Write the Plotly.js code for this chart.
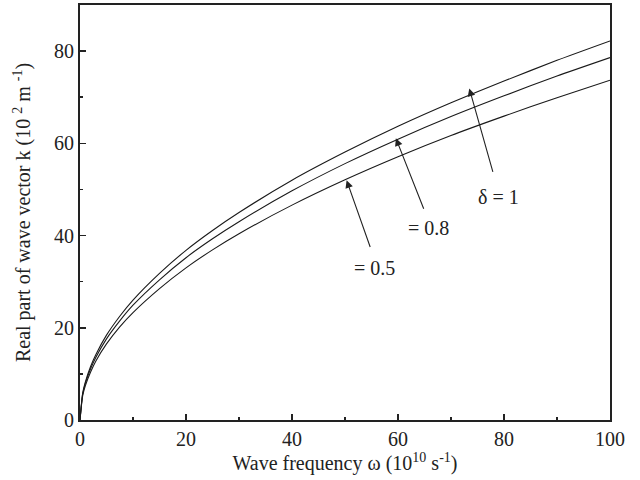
<!DOCTYPE html>
<html>
<head>
<meta charset="utf-8">
<script src="https://cdn.plot.ly/plotly-3.0.1.min.js"></script>
<style>html,body{margin:0;padding:0;background:#fff;}#chart{width:640px;height:480px;}</style>
</head>
<body>
<div id="chart"></div>
<script>
// Wave frequency (10^10 s^-1)
const omega = [0, 0.5, 1, 2, 3, 5, 7.5, 10, 15, 20, 25, 30, 40, 50, 60, 70, 80, 90, 100];
// Real part of wave vector k (10^2 m^-1) for each delta
const kDelta1  = [0, 5.8, 8.2, 11.6, 14.2, 18.4, 22.5, 26.0, 31.8, 36.8, 41.1, 45.0, 52.0, 58.1, 63.7, 68.8, 73.5, 78.0, 82.2];
const kDelta08 = [0, 5.6, 7.9, 11.1, 13.6, 17.6, 21.5, 24.9, 30.4, 35.2, 39.3, 43.0, 49.7, 55.6, 60.9, 65.8, 70.3, 74.6, 78.6];
const kDelta05 = [0, 5.2, 7.4, 10.4, 12.8, 16.5, 20.2, 23.3, 28.5, 33.0, 36.9, 40.4, 46.6, 52.1, 57.1, 61.7, 65.9, 69.9, 73.7];
const labels = ["δ = 1", "= 0.8", "= 0.5"];

const lineStyle = {color: '#1a1a1a', width: 1.1, shape: 'spline', smoothing: 0.6};
const traces = [kDelta1, kDelta08, kDelta05].map((k, i) => ({
  x: omega, y: k, mode: 'lines', type: 'scatter', name: labels[i],
  line: lineStyle, showlegend: false, hoverinfo: 'skip'
}));

const fam = '"Liberation Serif", "Times New Roman", serif';
const font = {family: fam, size: 20, color: '#222'};

function arrow(hx, hy, tx, ty) {
  return {x: hx, y: hy, ax: tx, ay: ty, xref: 'x', yref: 'y', axref: 'x', ayref: 'y',
    text: '', showarrow: true, arrowhead: 2, arrowsize: 1.4, arrowwidth: 1.1, arrowcolor: '#222'};
}
function label(x, y, t) {
  return {x: x, y: y, xref: 'x', yref: 'y', text: t, showarrow: false, font: font};
}

const layout = {
  width: 640, height: 480,
  margin: {l: 80, r: 30, t: 5, b: 60},
  paper_bgcolor: '#fff', plot_bgcolor: '#fff',
  font: font,
  showlegend: false,
  xaxis: {
    range: [0, 100], dtick: 20, tick0: 0,
    ticks: 'inside', ticklen: 6, tickwidth: 1.5, tickcolor: '#222',
    minor: {ticks: 'inside', ticklen: 3, dtick: 10, tickwidth: 1.5, tickcolor: '#222'},
    showline: true, linewidth: 2, linecolor: '#222', mirror: true,
    showgrid: false, zeroline: false,
    tickfont: font,
    title: {text: 'Wave frequency ω (10<sup>10</sup> s<sup>-1</sup>)', font: font, standoff: 6}
  },
  yaxis: {
    range: [0, 90], dtick: 20, tick0: 0,
    ticks: 'inside', ticklen: 6, tickwidth: 1.5, tickcolor: '#222',
    minor: {ticks: 'inside', ticklen: 3, dtick: 10, tickwidth: 1.5, tickcolor: '#222'},
    showline: true, linewidth: 2, linecolor: '#222', mirror: true,
    showgrid: false, zeroline: false,
    tickfont: font,
    title: {text: 'Real part of wave vector k (10 <sup>2</sup> m <sup>-1</sup>)', font: font, standoff: 18}
  },
  annotations: [
    arrow(73.45, 71.9, 77.98, 53.5),
    arrow(59.6, 61.1, 64.96, 45.5),
    arrow(50.3, 52.0, 54.85, 37.2),
    label(78.9, 48.3, labels[0]),
    label(65.75, 41.6, labels[1]),
    label(55.5, 33.0, labels[2])
  ]
};

Plotly.newPlot('chart', traces, layout, {displayModeBar: false, staticPlot: true});
</script>
</body>
</html>
